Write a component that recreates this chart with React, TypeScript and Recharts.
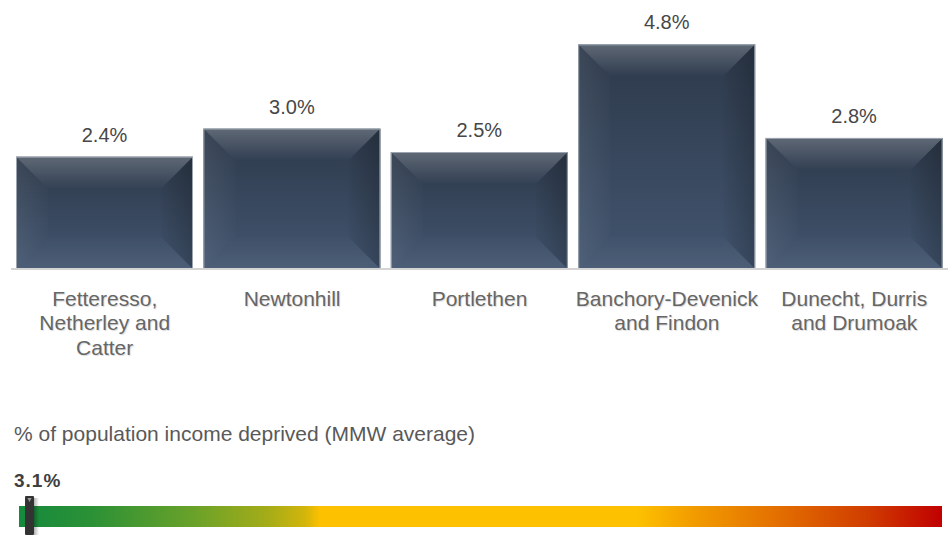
import React from 'react';
import { BarChart, Bar, XAxis, YAxis, LabelList } from 'recharts';

// values
const areas = [
  'Fetteresso,\nNetherley and\nCatter',
  'Newtonhill',
  'Portlethen',
  'Banchory-Devenick\nand Findon',
  'Dunecht, Durris\nand Drumoak',
];
const deprived = [2.4, 3.0, 2.5, 4.8, 2.8];
const averageLabel = '% of population income deprived (MMW average)';
const averageValue = 3.1;
// where the average sits on the colour scale (0 = left, 1 = right)
const averagePosition = 0.0114;

const data = areas.map((name, i) => ({ name, value: deprived[i] }));

const FONT = '"Liberation Sans", Arial, sans-serif';

function BevelBar(props: any) {
  const { x, y, width, height } = props;
  if (!height || height <= 0) return null;
  const b = Math.min(32, width / 2, height / 2);
  const x2 = x + width;
  const y2 = y + height;
  return (
    <g>
      <rect x={x} y={y} width={width} height={height} fill="url(#barBase)" />
      <polygon points={`${x},${y} ${x2},${y} ${x2 - b},${y + b} ${x + b},${y + b}`} fill="url(#barTop)" />
      <polygon points={`${x},${y} ${x + b},${y + b} ${x + b},${y2 - b} ${x},${y2}`} fill="url(#barLeft)" />
      <polygon points={`${x2},${y} ${x2},${y2} ${x2 - b},${y2 - b} ${x2 - b},${y + b}`} fill="url(#barRight)" />
      <polygon points={`${x},${y2} ${x + b},${y2 - b} ${x2 - b},${y2 - b} ${x2},${y2}`} fill="url(#barBottom)" />
      <rect x={x + 0.5} y={y + 0.5} width={width - 1} height={height - 1} fill="none" stroke="#9aa3ae" strokeWidth={1} />
    </g>
  );
}

function AreaTick(props: any) {
  const { x, y, payload } = props;
  const lines = String(payload.value).split('\n');
  return (
    <text
      x={x}
      y={y}
      textAnchor="middle"
      fill="#666666"
      fontSize={21}
      fontFamily={FONT}
      style={{ textShadow: '1px 1px 1px rgba(0,0,0,0.15)' }}
    >
      {lines.map((line, i) => (
        <tspan key={i} x={x} dy={i === 0 ? 28.5 : 24.5}>
          {line}
        </tspan>
      ))}
    </text>
  );
}

export default function App() {
  const scaleX = 19;
  const scaleW = 923;
  const markerX = scaleX + averagePosition * scaleW;
  return (
    <div
      style={{
        position: 'absolute',
        left: 0,
        top: 0,
        width: 950,
        height: 535,
        background: '#ffffff',
        fontFamily: FONT,
        overflow: 'hidden',
      }}
    >
      <BarChart
        width={950}
        height={370}
        data={data}
        margin={{ top: 35, right: 2, left: 11, bottom: 0 }}
        barCategoryGap={5}
      >
        <defs>
          <linearGradient id="barBase" x1="0" y1="0" x2="0" y2="1">
            <stop offset="0%" stopColor="#2d394a" />
            <stop offset="100%" stopColor="#42556f" />
          </linearGradient>
          <linearGradient id="barTop" x1="0" y1="0" x2="0" y2="1">
            <stop offset="0%" stopColor="#ffffff" stopOpacity={0.24} />
            <stop offset="100%" stopColor="#ffffff" stopOpacity={0} />
          </linearGradient>
          <linearGradient id="barLeft" x1="0" y1="0" x2="1" y2="0">
            <stop offset="0%" stopColor="#ffffff" stopOpacity={0.07} />
            <stop offset="100%" stopColor="#ffffff" stopOpacity={0.01} />
          </linearGradient>
          <linearGradient id="barRight" x1="0" y1="0" x2="1" y2="0">
            <stop offset="0%" stopColor="#000000" stopOpacity={0.02} />
            <stop offset="100%" stopColor="#000000" stopOpacity={0.2} />
          </linearGradient>
          <linearGradient id="barBottom" x1="0" y1="0" x2="0" y2="1">
            <stop offset="0%" stopColor="#ffffff" stopOpacity={0.01} />
            <stop offset="100%" stopColor="#ffffff" stopOpacity={0.06} />
          </linearGradient>
        </defs>
        <XAxis
          dataKey="name"
          height={101}
          tickLine={false}
          axisLine={{ stroke: '#d4d4d4', strokeWidth: 2 }}
          interval={0}
          tick={<AreaTick />}
        />
        <YAxis hide domain={[0, 5]} />
        <Bar dataKey="value" shape={<BevelBar />} isAnimationActive={false}>
          <LabelList
            dataKey="value"
            position="top"
            offset={15}
            formatter={(v: any) => `${Number(v).toFixed(1)}%`}
            style={{ fill: '#474747', fontSize: 20, fontFamily: FONT }}
          />
        </Bar>
      </BarChart>

      <svg width={950} height={165} style={{ position: 'absolute', left: 0, top: 370 }}>
        <defs>
          <linearGradient id="scale" x1="0" y1="0" x2="1" y2="0">
            <stop offset="0%" stopColor="#158a3d" />
            <stop offset="8%" stopColor="#2c9136" />
            <stop offset="19%" stopColor="#6aa229" />
            <stop offset="27%" stopColor="#a5ac18" />
            <stop offset="31%" stopColor="#d3b50b" />
            <stop offset="32.6%" stopColor="#fdc100" />
            <stop offset="67%" stopColor="#fdc100" />
            <stop offset="73%" stopColor="#f29c00" />
            <stop offset="83%" stopColor="#e26b00" />
            <stop offset="92%" stopColor="#d03c00" />
            <stop offset="100%" stopColor="#c00000" />
          </linearGradient>
          <linearGradient id="markerShadow" x1="0" y1="0" x2="1" y2="0">
            <stop offset="0%" stopColor="#000000" stopOpacity={0.3} />
            <stop offset="100%" stopColor="#000000" stopOpacity={0} />
          </linearGradient>
        </defs>
        <text x={14} y={71} fontSize={21} fill="#595959" fontFamily={FONT}>
          {averageLabel}
        </text>
        <text x={14} y={117} fontSize={19} fontWeight="bold" letterSpacing={1} fill="#404040" fontFamily={FONT}>
          {averageValue.toFixed(1)}%
        </text>
        <rect x={scaleX} y={136} width={scaleW} height={21} fill="url(#scale)" />
        <rect x={markerX + 4.5} y={128} width={5} height={37} fill="url(#markerShadow)" />
        <rect x={markerX - 4.5} y={126} width={9} height={39} rx={1} fill="#333333" />
        <polygon
          points={`${markerX - 2},${128} ${markerX + 2},${128} ${markerX},${132}`}
          fill="#9a9a9a"
        />
      </svg>
    </div>
  );
}
